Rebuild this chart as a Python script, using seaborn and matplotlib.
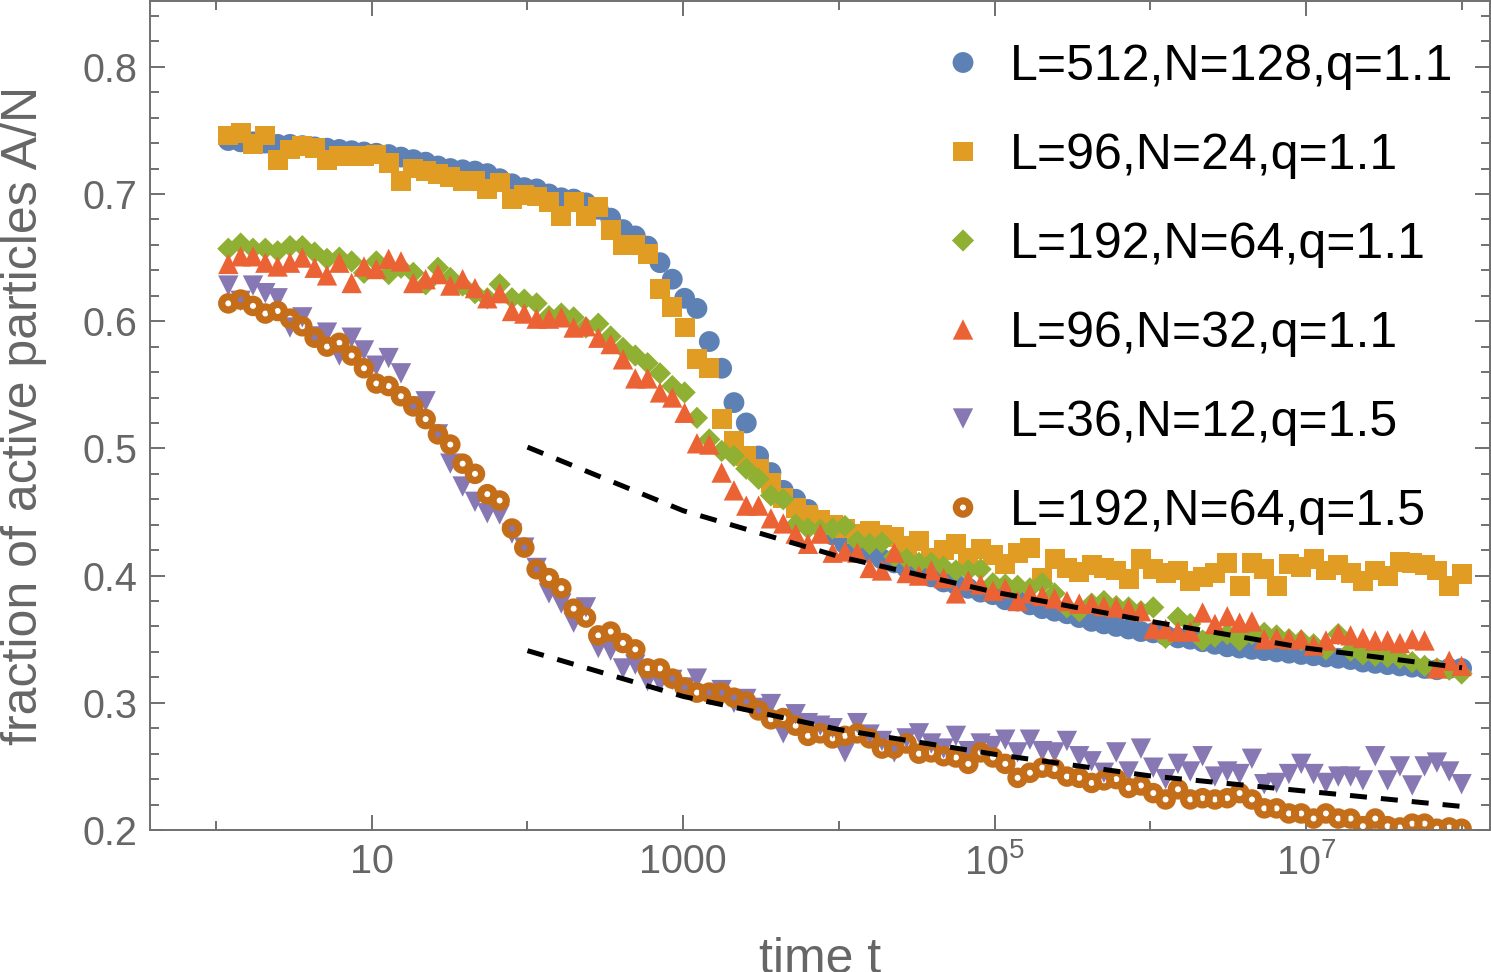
import numpy as np
import pandas as pd
import matplotlib
matplotlib.use("Agg")
import matplotlib.pyplot as plt
import seaborn as sns
from matplotlib.ticker import FixedLocator, FixedFormatter, NullFormatter

# ---------------- data ----------------
# sampling grid: t = 1.2**k, k = 1..101
grid_base = 1.2
k_index = np.arange(1, 102)
time_t = grid_base ** k_index

labels = ["L=512,N=128,q=1.1", "L=96,N=24,q=1.1", "L=192,N=64,q=1.1",
          "L=96,N=32,q=1.1", "L=36,N=12,q=1.5", "L=192,N=64,q=1.5"]

blue_vals = [
    .742, .741, .741, .740, .739, .739, .738, .737, .736, .735,
    .734, .733, .732, .731, .729, .727, .725, .722, .720, .719,
    .718, .716, .712, .708, .705, .704, .700, .697, .696, .693,
    .688, .681, .672, .667, .659, .646, .633, .618, .610, .584,
    .563, .536, .520, .494, .481, .467, .460, .452, .440, .432,
    .425, .422, .418, .413, .410, .406, .402, .399, .395, .393,
    .390, .387, .385, .381, .380, .377, .374, .372, .370, .367,
    .364, .362, .360, .358, .356, .355, .353, .351, .350, .348,
    .346, .344, .343, .342, .341, .340, .339, .338, .337, .336,
    .335, .334, .332, .331, .330, .329, .328, .327, .326, .327,
    .327]

orange_vals = [
    .746, .748, .739, .746, .727, .735, .738, .736, .727, .730,
    .730, .730, .731, .724, .710, .720, .718, .716, .713, .710,
    .710, .704, .709, .696, .699, .698, .694, .683, .694, .683,
    .690, .672, .660, .660, .653, .625, .611, .595, .570, .563,
    .523, .506, .494, .484, .473, .461, .453, .448, .444, .440,
    .437, .433, .435, .432, .430, .423, .427, .414, .420, .425,
    .414, .421, .416, .409, .418, .422, .398, .413, .406, .403,
    .408, .406, .404, .397, .413, .405, .402, .404, .396, .399,
    .402, .410, .392, .410, .405, .392, .409, .407, .413, .404,
    .408, .402, .396, .404, .400, .411, .410, .408, .404, .392,
    .401]

green_vals = [
    .657, .661, .657, .657, .655, .659, .659, .654, .649, .650,
    .647, .638, .647, .637, .642, .638, .629, .642, .634, .628,
    .622, .618, .629, .618, .617, .614, .604, .606, .603, .595,
    .598, .588, .579, .573, .567, .559, .549, .544, .524, .507,
    .498, .494, .484, .476, .463, .460, .440, .437, .436, .437,
    .439, .427, .425, .426, .415, .413, .410, .410, .407, .404,
    .404, .405, .394, .393, .392, .390, .394, .386, .375, .372,
    .378, .380, .376, .375, .372, .375, .351, .367, .362, .349,
    .352, .354, .349, .354, .355, .353, .350, .349, .346, .342,
    .354, .341, .338, .337, .336, .335, .332, .329, .327, .326,
    .323]

red_vals = [
    .645, .651, .651, .646, .643, .646, .650, .642, .636, .646,
    .630, .643, .641, .649, .647, .630, .633, .637, .628, .633,
    .626, .618, .622, .608, .606, .602, .602, .603, .595, .596,
    .587, .582, .570, .555, .555, .544, .540, .528, .504, .503,
    .481, .467, .455, .455, .445, .441, .433, .425, .433, .418,
    .419, .418, .406, .404, .418, .402, .400, .404, .398, .386,
    .396, .393, .388, .390, .380, .386, .384, .382, .380, .378,
    .378, .376, .375, .374, .372, .358, .358, .356, .356, .371,
    .362, .368, .363, .364, .350, .351, .350, .350, .345, .349,
    .354, .353, .351, .349, .349, .347, .350, .349, .327, .333,
    .329]

purple_vals = [
    .628, .616, .628, .622, .618, .595, .603, .588, .591, .573,
    .587, .577, .565, .571, .559, .533, .537, .511, .488, .470,
    .458, .449, .448, .433, .422, .406, .386, .378, .363, .375,
    .343, .341, .327, .330, .317, .316, .318, .312, .319, .306,
    .310, .300, .303, .296, .299, .276, .291, .284, .282, .280,
    .261, .284, .275, .270, .261, .272, .276, .268, .264, .274,
    .262, .268, .266, .271, .261, .271, .262, .261, .270, .258,
    .254, .245, .261, .246, .264, .249, .240, .252, .246, .258,
    .242, .246, .244, .256, .236, .237, .244, .252, .244, .237,
    .242, .242, .239, .258, .239, .250, .235, .250, .253, .246,
    .236]

brown_vals = [
    .614, .617, .612, .606, .608, .602, .596, .587, .580, .583,
    .573, .563, .551, .549, .541, .533, .523, .511, .503, .488,
    .480, .464, .459, .437, .422, .405, .398, .390, .374, .367,
    .353, .356, .347, .342, .327, .327, .319, .312, .308, .308,
    .308, .304, .301, .294, .287, .288, .282, .274, .276, .272,
    .274, .276, .272, .264, .264, .268, .260, .261, .258, .257,
    .252, .261, .257, .252, .241, .245, .249, .248, .242, .241,
    .237, .239, .240, .233, .235, .229, .224, .232, .224, .225,
    .224, .225, .229, .224, .217, .217, .213, .213, .209, .213,
    .209, .209, .203, .209, .203, .202, .205, .205, .201, .202,
    .201]

# dashed guide lines (read at each decade)
fit_t = [1e2, 1e3, 1e4, 1e5, 1e6, 1e7, 1e8]
fit_upper = [0.501, 0.451, 0.415, 0.387, 0.364, 0.343, 0.3275]
fit_lower = [0.341, 0.305, 0.279, 0.2595, 0.2425, 0.2305, 0.2185]

x_major = [10, 1e3, 1e5, 1e7]
x_major_labels = ["10", "1000", r"$\mathregular{10^5}$", r"$\mathregular{10^7}$"]
x_minor = [1, 1e2, 1e4, 1e6, 1e8]
y_major = [0.2, 0.3, 0.4, 0.5, 0.6, 0.7, 0.8]
y_major_labels = ["0.2", "0.3", "0.4", "0.5", "0.6", "0.7", "0.8"]

# ---------------- style ----------------
sns.set_style("ticks")
plt.rcParams["font.family"] = ["Liberation Sans", "DejaVu Sans"]
plt.rcParams["mathtext.fontset"] = "custom"
plt.rcParams["mathtext.rm"] = "Liberation Sans"
plt.rcParams["mathtext.it"] = "Liberation Sans:italic"
plt.rcParams["mathtext.bf"] = "Liberation Sans:bold"

gray = "#666666"
spine_gray = "#707070"
colors = ["#5E81B5", "#E19C24", "#8FB032", "#EB6235", "#8778B3", "#C56E1A"]

fig = plt.figure(figsize=(14.91, 9.72), dpi=100)
W, H = 1491, 972
ax = fig.add_axes([150 / W, 142 / H, 1340 / W, 829 / H])

series_vals = [blue_vals, orange_vals, green_vals, red_vals, purple_vals, brown_vals]
markers = ["o", "s", "D", "^", "v", "o"]
sizes = [225, 205, 128, 215, 215, 92]

for i in range(6):
    df = pd.DataFrame({"t": time_t, "v": series_vals[i]})
    if i < 5:
        sns.scatterplot(data=df, x="t", y="v", ax=ax, marker=markers[i], s=sizes[i],
                        color=colors[i], linewidth=0, edgecolor="none",
                        label=labels[i], zorder=2 + i * 0.1)
    else:
        sns.scatterplot(data=df, x="t", y="v", ax=ax, marker="o", s=sizes[i],
                        facecolors="none", edgecolor=colors[i], linewidth=5.2,
                        label=labels[i], zorder=2 + i * 0.1)

for fy in (fit_upper, fit_lower):
    sns.lineplot(x=fit_t, y=fy, ax=ax, color="black", linewidth=3.6,
                 linestyle=(0, (3.4, 2.8)), legend=False, zorder=5)

ax.set_xscale("log")
ax.set_xlim(0.377, 1.513e8)
ax.set_ylim(0.2, 0.8517)

ax.xaxis.set_major_locator(FixedLocator(x_major))
ax.xaxis.set_major_formatter(FixedFormatter(x_major_labels))
ax.xaxis.set_minor_locator(FixedLocator(x_minor))
ax.xaxis.set_minor_formatter(NullFormatter())
ax.yaxis.set_major_locator(FixedLocator(y_major))
ax.yaxis.set_major_formatter(FixedFormatter(y_major_labels))
ax.yaxis.set_minor_locator(FixedLocator(np.round(np.arange(0.2, 0.86, 0.02), 2)))
ax.yaxis.set_minor_formatter(NullFormatter())

ax.tick_params(axis="both", which="both", direction="in", top=True, right=True,
               color=spine_gray, width=1.4, labelcolor=gray, labelsize=28.5, pad=9)
ax.tick_params(axis="both", which="major", length=11)
ax.tick_params(axis="both", which="minor", length=6.8)
for sp in ax.spines.values():
    sp.set_color(spine_gray)
    sp.set_linewidth(1.4)

ax.set_xlabel("time t", fontsize=36, color=gray)
ax.set_ylabel("fraction of active particles A/N", fontsize=36, color=gray)
ax.xaxis.set_label_coords(0.5, -0.1725)
ax.xaxis.label.set_verticalalignment("baseline")
ax.yaxis.set_label_coords(-0.077, 0.5)

handles, lbls = ax.get_legend_handles_labels()
leg = ax.legend(handles, lbls, loc="upper left", bbox_to_anchor=(938 / W, 1 - 44 / H),
                bbox_transform=fig.transFigure, frameon=False, fontsize=36,
                handlelength=1.0, handletextpad=0.44, labelspacing=0.86,
                borderpad=0, borderaxespad=0, scatterpoints=1, scatteryoffsets=[0.5])
for txt in leg.get_texts():
    txt.set_color("black")

fig.savefig("out.png", dpi=100)
